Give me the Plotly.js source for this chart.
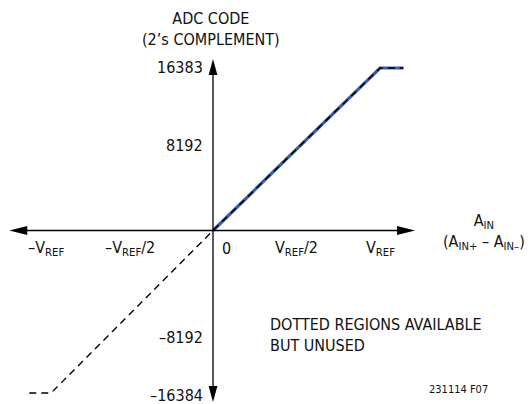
<!DOCTYPE html>
<html>
<head>
<meta charset="utf-8">
<script src="https://cdn.plot.ly/plotly-3.0.1.min.js"></script>
<style>html,body{margin:0;padding:0;background:#fff;}#chart{width:531px;height:404px;}</style>
</head>
<body>
<div id="chart"></div>
<script>
// Transfer function (x in units of VREF, y in ADC codes)
const solidX = [0, 1, 1.14];
const solidY = [0, 16383, 16383];
const dottedX = [-1.1, -0.97, 0, 1, 1.14];
const dottedY = [-16384, -16384, 0, 16383, 16383];

// Tick labels
const xTickVals = [-1, -0.5, 0, 0.5, 1];
const xTickText = ['–V<sub>REF</sub>', '–V<sub>REF</sub>/2', '0', 'V<sub>REF</sub>/2', 'V<sub>REF</sub>'];
const yTickVals = [16383, 8192, -8192, -16384];
const yTickText = ['16383', '8192', '–8192', '–16384'];

// Axis extents (arrow tips)
const xAxisEnds = [-1.22, 1.21];
const yAxisEnds = [17290, -17290];

const FONT = 'DejaVu Sans Condensed, Liberation Sans, Arial, sans-serif';
const fs = 16;

// scale: 0 at px 213, 167 px per VREF; y: 0 at px 230.5, 162.5 px per 16384
const W = 531, H = 404;
const xPx = 167, x0 = 213;
const yPx = 162.5 / 16384, y0 = 230.5;
const xRange = [-x0 / xPx, (W - x0) / xPx];
const yRange = [-(H - y0) / yPx, y0 / yPx];

const traces = [
  {x: solidX, y: solidY, mode: 'lines', line: {color: '#3a5cb0', width: 3.2}, hoverinfo: 'skip'},
  {x: dottedX, y: dottedY, mode: 'lines', line: {color: '#000', width: 1.4, dash: '7px,5px'}, hoverinfo: 'skip'}
];

const annotations = [];
const xShift = [0, 0, 13, 0, 0];
xTickVals.forEach((v, i) => {
  annotations.push({x: v, y: 0, xref: 'x', yref: 'y', text: xTickText[i], showarrow: false,
    xanchor: 'center', yanchor: 'middle', yshift: -18, xshift: xShift[i],
    font: {family: FONT, size: fs, color: '#111'}});
});
const yShift = [1, 4, -26, -2];
yTickVals.forEach((v, i) => {
  annotations.push({x: 0, y: v, xref: 'x', yref: 'y', text: yTickText[i], showarrow: false,
    xanchor: 'right', yanchor: 'middle', xshift: -8, yshift: yShift[i],
    font: {family: FONT, size: fs, color: '#111'}});
});
annotations.push({x: 211 / W, y: 1 - 29 / H, xref: 'paper', yref: 'paper',
  text: 'ADC CODE<br>(2’s COMPLEMENT)', showarrow: false, xanchor: 'center', yanchor: 'middle',
  align: 'center', font: {family: FONT, size: fs, color: '#111'}});
annotations.push({x: 484 / W, y: 1 - 232 / H, xref: 'paper', yref: 'paper',
  text: 'A<sub>IN</sub><br>(A<sub>IN+</sub> – A<sub>IN–</sub>)', showarrow: false,
  xanchor: 'center', yanchor: 'middle', align: 'center', font: {family: FONT, size: fs, color: '#111'}});
annotations.push({x: 268 / W, y: 1 - 335 / H, xref: 'paper', yref: 'paper',
  text: 'DOTTED REGIONS AVAILABLE<br>BUT UNUSED', showarrow: false,
  xanchor: 'left', yanchor: 'middle', align: 'left', font: {family: FONT, size: fs, color: '#111'}});
annotations.push({x: 458 / W, y: 1 - 389 / H, xref: 'paper', yref: 'paper',
  text: '231114 F07', showarrow: false, xanchor: 'center', yanchor: 'middle',
  font: {family: FONT, size: 11, color: '#111'}});

const shapes = [
  {type: 'line', xref: 'x', yref: 'y', x0: xAxisEnds[0] + 0.05, x1: xAxisEnds[1] - 0.05, y0: 0, y1: 0, line: {color: '#000', width: 1.3}},
  {type: 'line', xref: 'x', yref: 'y', x0: 0, x1: 0, y0: yAxisEnds[1] + 800, y1: yAxisEnds[0] - 800, line: {color: '#000', width: 1.3}},
  // arrowheads (pixel-sized)
  {type: 'path', xref: 'x', yref: 'y', xsizemode: 'pixel', ysizemode: 'pixel', xanchor: xAxisEnds[1], yanchor: 0,
    path: 'M0,0 L-18,4.6 L-18,-4.6 Z', fillcolor: '#000', line: {width: 0}},
  {type: 'path', xref: 'x', yref: 'y', xsizemode: 'pixel', ysizemode: 'pixel', xanchor: xAxisEnds[0], yanchor: 0,
    path: 'M0,0 L18,4.6 L18,-4.6 Z', fillcolor: '#000', line: {width: 0}},
  {type: 'path', xref: 'x', yref: 'y', xsizemode: 'pixel', ysizemode: 'pixel', xanchor: 0, yanchor: yAxisEnds[0],
    path: 'M0,0 L-4.4,-16 L4.4,-16 Z', fillcolor: '#000', line: {width: 0}},
  {type: 'path', xref: 'x', yref: 'y', xsizemode: 'pixel', ysizemode: 'pixel', xanchor: 0, yanchor: yAxisEnds[1],
    path: 'M0,0 L-4.4,16 L4.4,16 Z', fillcolor: '#000', line: {width: 0}}
];

const layout = {
  width: W, height: H,
  margin: {l: 0, r: 0, t: 0, b: 0},
  paper_bgcolor: '#fff', plot_bgcolor: '#fff',
  showlegend: false,
  xaxis: {range: xRange, visible: false, fixedrange: true},
  yaxis: {range: yRange, visible: false, fixedrange: true},
  annotations: annotations,
  shapes: shapes
};

Plotly.newPlot('chart', traces, layout, {displayModeBar: false});
</script>
</body>
</html>
